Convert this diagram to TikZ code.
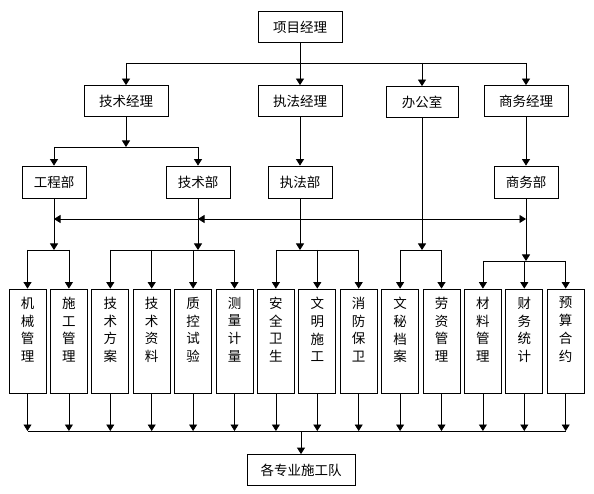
\documentclass[tikz,border=0pt]{standalone}
\usepackage{fontspec}
\setmainfont{Noto Sans CJK SC}
\usetikzlibrary{arrows.meta}
\usetikzlibrary{positioning}
\newcommand{\colchars}[1]{\parbox[c][88pt][t]{14pt}{\centering #1}}

\begin{document}
\begin{tikzpicture}[x=1pt, y=-1pt, node distance=41.4pt, line width=0.8pt, auto]
\tikzset{
topbox/.style = {draw, rectangle, minimum width=84pt, minimum height=31pt},
deptbox/.style = {draw, rectangle, minimum width=64pt, minimum height=32pt},
itembox/.style = {draw, rectangle, minimum width=37pt, minimum height=104pt, inner sep=0pt},
teambox/.style = {draw, rectangle, minimum width=108pt, minimum height=31pt},
line/.style = {draw, -{Triangle[width=8pt,length=6.5pt]}},
every node/.style = {font=\fontsize{13.5}{17.8}\selectfont}
}
\useasboundingbox (0,0) rectangle (594,494);

     \node [topbox] (xmjl) at (300,27) {项目经理};
     \node [topbox] (jsjl) at (126,101) {技术经理};
     \node [topbox] (zfjl) at (300,101) {执法经理};
     \node [topbox, minimum width=72pt] (bgs) at (422,102) {办公室};
     \node [topbox] (swjl) at (526,101) {商务经理};

     \node [deptbox] (gcb) at (54,182) {工程部};
     \node [deptbox] (jsb) at (198,182) {技术部};
     \node [deptbox] (zfb) at (300,182) {执法部};
     \node [deptbox] (swb) at (526,182) {商务部};

     \node [itembox] (jxgl) at (27.5,341) {\colchars{机\\械\\管\\理}};
     \node [itembox, right of=jxgl] (sggl) {\colchars{施\\工\\管\\理}};
     \node [itembox, right of=sggl] (jsfa) {\colchars{技\\术\\方\\案}};
     \node [itembox, right of=jsfa] (jszl) {\colchars{技\\术\\资\\料}};
     \node [itembox, right of=jszl] (zksy) {\colchars{质\\控\\试\\验}};
     \node [itembox, right of=zksy] (cljl) {\colchars{测\\量\\计\\量}};
     \node [itembox, right of=cljl] (aqws) {\colchars{安\\全\\卫\\生}};
     \node [itembox, right of=aqws] (wmsg) {\colchars{文\\明\\施\\工}};
     \node [itembox, right of=wmsg] (xfbw) {\colchars{消\\防\\保\\卫}};
     \node [itembox, right of=xfbw] (wmda) {\colchars{文\\秘\\档\\案}};
     \node [itembox, right of=wmda] (lzgl) {\colchars{劳\\资\\管\\理}};
     \node [itembox, right of=lzgl] (clgl) {\colchars{材\\料\\管\\理}};
     \node [itembox, right of=clgl] (cwtj) {\colchars{财\\务\\统\\计}};
     \node [itembox, right of=cwtj] (yshy) {\colchars{预\\算\\合\\约}};

     \node [teambox] (gzsgd) at (301,470) {各专业施工队};

     % bus heights
     \coordinate (busa) at (0,63);
     \coordinate (busb) at (0,147);
     \coordinate (cross) at (0,219);
     \coordinate (busc) at (0,250);
     \coordinate (busd) at (0,261);
     \coordinate (buse) at (0,431);

     % project manager to managers
     \draw (xmjl) -- (xmjl |- busa);
     \draw (jsjl |- busa) -- (swjl |- busa);
     \path [line] (jsjl |- busa) -- (jsjl);
     \path [line] (zfjl |- busa) -- (zfjl);
     \path [line] (bgs |- busa) -- (bgs);
     \path [line] (swjl |- busa) -- (swjl);

     % managers to departments
     \path [line] (jsjl) -- (jsjl |- busb);
     \draw (gcb |- busb) -- (jsb |- busb);
     \path [line] (gcb |- busb) -- (gcb);
     \path [line] (jsb |- busb) -- (jsb);
     \path [line] (zfjl) -- (zfb);
     \path [line] (swjl) -- (swb);

     % cross links
     \path [line] (zfb |- cross) -- (jsb |- cross);
     \path [line] (jsb |- cross) -- (gcb |- cross);
     \path [line] (zfb |- cross) -- (swb |- cross);

     % departments to items
     \path [line] (gcb) -- (gcb |- busc);
     \draw (jxgl |- busc) -- (sggl |- busc);
     \path [line] (jxgl |- busc) -- (jxgl);
     \path [line] (sggl |- busc) -- (sggl);

     \path [line] (jsb) -- (jsb |- busc);
     \draw (jsfa |- busc) -- (cljl |- busc);
     \path [line] (jsfa |- busc) -- (jsfa);
     \path [line] (jszl |- busc) -- (jszl);
     \path [line] (zksy |- busc) -- (zksy);
     \path [line] (cljl |- busc) -- (cljl);

     \path [line] (zfb) -- (zfb |- busc);
     \draw (aqws |- busc) -- (xfbw |- busc);
     \path [line] (aqws |- busc) -- (aqws);
     \path [line] (wmsg |- busc) -- (wmsg);
     \path [line] (xfbw |- busc) -- (xfbw);

     \path [line] (bgs) -- (bgs |- busc);
     \draw (wmda |- busc) -- (lzgl |- busc);
     \path [line] (wmda |- busc) -- (wmda);
     \path [line] (lzgl |- busc) -- (lzgl);

     \path [line] (swb) -- (swb |- busd);
     \draw (clgl |- busd) -- (yshy |- busd);
     \path [line] (clgl |- busd) -- (clgl);
     \path [line] (cwtj |- busd) -- (cwtj);
     \path [line] (yshy |- busd) -- (yshy);

     % items to teams
     \path [line] (jxgl) -- (jxgl |- buse);
     \path [line] (sggl) -- (sggl |- buse);
     \path [line] (jsfa) -- (jsfa |- buse);
     \path [line] (jszl) -- (jszl |- buse);
     \path [line] (zksy) -- (zksy |- buse);
     \path [line] (cljl) -- (cljl |- buse);
     \path [line] (aqws) -- (aqws |- buse);
     \path [line] (wmsg) -- (wmsg |- buse);
     \path [line] (xfbw) -- (xfbw |- buse);
     \path [line] (wmda) -- (wmda |- buse);
     \path [line] (lzgl) -- (lzgl |- buse);
     \path [line] (clgl) -- (clgl |- buse);
     \path [line] (cwtj) -- (cwtj |- buse);
     \path [line] (yshy) -- (yshy |- buse);
     \draw (jxgl |- buse) -- (yshy |- buse);
     \path [line] (gzsgd |- buse) -- (gzsgd);
\end{tikzpicture}
\end{document}
